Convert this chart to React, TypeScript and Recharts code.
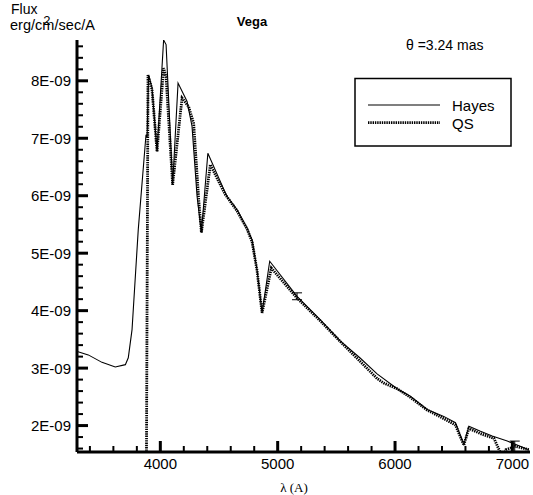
import React from 'react';
import { ComposedChart, Line, Scatter, ErrorBar, XAxis, YAxis } from 'recharts';

// wavelength in Angstrom, flux in units of 1E-09 erg/cm2/sec/A
const hayesWave = [3292, 3386, 3503, 3616, 3702, 3727, 3759, 3812, 3878, 3887, 3900, 3929, 3972, 4028, 4049, 4105, 4151, 4228, 4270, 4313, 4350, 4405, 4554, 4568, 4653, 4739, 4782, 4824, 4867, 4932, 5165, 5364, 5535, 5700, 5847, 6018, 6131, 6274, 6415, 6515, 6586, 6629, 6728, 6828, 6956, 7140];
const hayesFlux = [3.29, 3.23, 3.10, 3.02, 3.06, 3.18, 3.67, 5.41, 7.06, 7.01, 8.10, 7.88, 6.77, 8.71, 8.63, 6.19, 7.96, 7.64, 7.21, 5.99, 5.36, 6.74, 6.05, 5.99, 5.76, 5.44, 5.23, 4.71, 3.96, 4.86, 4.25, 3.84, 3.47, 3.18, 2.90, 2.64, 2.51, 2.28, 2.16, 2.05, 1.67, 1.99, 1.90, 1.82, 1.73, 1.58];

const qsWave = [3879, 3895, 3929, 3972, 4028, 4049, 4105, 4185, 4241, 4284, 4327, 4350, 4426, 4554, 4653, 4739, 4782, 4824, 4867, 4946, 5165, 5364, 5535, 5847, 5903, 6018, 6131, 6274, 6415, 6515, 6586, 6629, 6728, 6842, 6893, 6915, 6945, 7026, 7140];
const qsFlux = [0, 8.10, 7.85, 6.77, 8.22, 8.07, 6.19, 7.70, 7.55, 7.26, 5.93, 5.36, 6.54, 6.02, 5.74, 5.42, 5.20, 4.70, 3.96, 4.74, 4.22, 3.82, 3.46, 2.82, 2.74, 2.64, 2.49, 2.27, 2.12, 2.01, 1.66, 1.95, 1.86, 1.78, 1.55, 1.40, 1.58, 1.64, 1.58];

const errWave = [5165, 7020];
const errFlux = [4.25, 1.64];
const errSize = [0.06, 0.09];

const xTicks = [3400, 3600, 3800, 4000, 4200, 4400, 4600, 4800, 5000, 5200, 5400, 5600, 5800, 6000, 6200, 6400, 6600, 6800, 7000];
const xLabels = [4000, 5000, 6000, 7000];
const yTicks = [1.6, 1.8, 2, 2.2, 2.4, 2.6, 2.8, 3, 3.2, 3.4, 3.6, 3.8, 4, 4.2, 4.4, 4.6, 4.8, 5, 5.2, 5.4, 5.6, 5.8, 6, 6.2, 6.4, 6.6, 6.8, 7, 7.2, 7.4, 7.6, 7.8, 8, 8.2, 8.4, 8.6];
const yLabels = [2, 3, 4, 5, 6, 7, 8];

const hayes = hayesWave.map((lam, i) => ({ lam, flux: hayesFlux[i] }));
const qs = qsWave.map((lam, i) => ({ lam, flux: qsFlux[i] }));
const errs = errWave.map((lam, i) => ({ lam, flux: errFlux[i], err: errSize[i] }));

const SANS = '"Liberation Sans", Arial, Helvetica, sans-serif';

function XTick(props: any) {
  const { x, y, payload } = props;
  const major = xLabels.includes(payload.value);
  return (
    <g>
      <line x1={x} x2={x} y1={y} y2={y - (major ? 11 : 6)} stroke="#000" strokeWidth={major ? 3 : 2} />
      {major && (
        <text x={x} y={y + 17} textAnchor="middle" fontSize={15} fontFamily={SANS} fill="#000">
          {payload.value}
        </text>
      )}
    </g>
  );
}

function YTick(props: any) {
  const { x, y, payload } = props;
  const major = yLabels.includes(payload.value);
  return (
    <g>
      <line x1={x} x2={x + (major ? 11 : 6)} y1={y} y2={y} stroke="#000" strokeWidth={major ? 3 : 2} />
      {major && (
        <text x={x - 6} y={y + 5.5} textAnchor="end" fontSize={15} fontFamily={SANS} fill="#000">
          {`${payload.value}E-09`}
        </text>
      )}
    </g>
  );
}

export default function App() {
  return (
    <div style={{ position: 'absolute', left: 0, top: 0, width: 533, height: 495, background: '#fff' }}>
      <ComposedChart width={533} height={495} margin={{ top: 40, right: 3, bottom: 0, left: 0 }}>
        <XAxis
          type="number"
          dataKey="lam"
          domain={[3290, 7150]}
          allowDataOverflow
          ticks={xTicks}
          interval={0}
          tickSize={0}
          tickMargin={0}
          tick={<XTick />}
          height={43}
          axisLine={{ stroke: '#000', strokeWidth: 3 }}
        />
        <YAxis
          type="number"
          domain={[1.54, 8.71]}
          allowDataOverflow
          ticks={yTicks}
          interval={0}
          tickSize={0}
          tickMargin={0}
          tick={<YTick />}
          width={77}
          axisLine={{ stroke: '#000', strokeWidth: 3 }}
        />
        <Line data={hayes} dataKey="flux" type="linear" stroke="#000" strokeWidth={1.1} dot={false} isAnimationActive={false} />
        <Line data={qs} dataKey="flux" type="linear" stroke="#000" strokeWidth={2.8} strokeDasharray="1.4 0.9" dot={false} isAnimationActive={false} />
        <Scatter data={errs} dataKey="flux" shape={() => <g />} isAnimationActive={false}>
          <ErrorBar dataKey="err" direction="y" width={5} stroke="#000" strokeWidth={1} />
        </Scatter>
      </ComposedChart>
      <svg width={533} height={495} style={{ position: 'absolute', left: 0, top: 0, pointerEvents: 'none' }}>
        <text x={11} y={14} fontSize={14} fontFamily={SANS}>Flux</text>
        <text x={10} y={30} fontSize={14.5} fontFamily={SANS}>
          erg/cm
          <tspan dx={-11} dy={-5} fontSize={13}>2</tspan>
          <tspan dx={4} dy={5}>/sec/A</tspan>
        </text>
        <text x={252} y={26} textAnchor="middle" fontSize={13} fontWeight="bold" fontFamily={SANS}>Vega</text>
        <text x={406} y={50} fontSize={14} fontFamily={SANS}>θ =3.24 mas</text>
        <rect x={355} y={78.5} width={156} height={67.5} fill="#fff" stroke="#000" strokeWidth={1.5} />
        <line x1={368} x2={440} y1={105} y2={105} stroke="#000" strokeWidth={1.2} />
        <line x1={368} x2={440} y1={122.7} y2={122.7} stroke="#000" strokeWidth={2.8} strokeDasharray="1.4 0.9" />
        <text x={452} y={110.5} fontSize={15} fontFamily={SANS}>Hayes</text>
        <text x={452} y={128.5} fontSize={15} fontFamily={SANS}>QS</text>
        <text x={294} y={492} textAnchor="middle" fontSize={13} fontFamily='"Liberation Serif", "Times New Roman", serif'>λ (A)</text>
      </svg>
    </div>
  );
}
